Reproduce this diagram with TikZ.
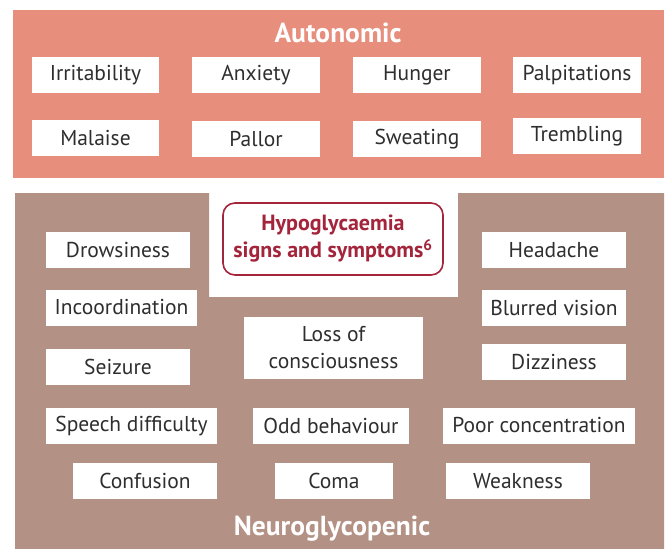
\documentclass[tikz,border=0pt]{standalone}
\usepackage{fontspec}
\setmainfont{PT Sans}
\definecolor{autonom}{HTML}{E88E7D}
\definecolor{neuro}{HTML}{B39184}
\definecolor{hypo}{HTML}{A3243B}
\definecolor{schrift}{HTML}{2E2E2E}

\begin{document}
\begin{tikzpicture}[x=1pt,y=-1pt,
  sym/.style={fill=white, inner sep=0pt, minimum height=36pt, align=center,
    font=\fontsize{21.5}{27}\selectfont, text=schrift},
  titel/.style={font=\fontsize{27.5}{30}\selectfont\bfseries, text=white}]
\useasboundingbox (0,0) rectangle (670,549);

% Autonomic panel
\fill[autonom] (13,10) rectangle (664,178);
\node[titel] (autonomic) at (338,33) {Autonomic};
\node[sym, minimum width=127pt] (irritability) at (95.5,75) {Irritability};
\node[sym, minimum width=128pt] (anxiety) at (256,75) {Anxiety};
\node[sym, minimum width=128pt] (hunger) at (417,75) {Hunger};
\node[sym, minimum width=128pt] (palpitations) at (577,75) {Palpitations};
\node[sym, minimum width=127pt] (malaise) at (95.5,138) {Malaise};
\node[sym, minimum width=128pt] (pallor) at (256,139) {Pallor};
\node[sym, minimum width=128pt] (sweating) at (417,139) {Sweating};
\node[sym, minimum width=128pt] (trembling) at (577,136) {Trembling};

% Neuroglycopenic panel
\fill[neuro] (15,193) -- (209,193) -- (209,297) -- (458,297) -- (458,193)
  -- (664,193) -- (664,549) -- (15,549) -- cycle;
\node[draw=hypo, line width=1.6pt, rounded corners=12pt, fill=white,
  minimum width=220pt, minimum height=72pt, align=center, text=hypo,
  font=\fontsize{22}{27}\selectfont\bfseries] (hypoglyk) at (333,239)
  {Hypoglycaemia\\signs and symptoms\textsuperscript{6}};

% left column
\node[sym, minimum width=144pt] (drowsiness) at (118,250) {Drowsiness};
\node[sym, minimum width=151pt] (incoordination) at (121.5,307.5) {Incoordination};
\node[sym, minimum width=144pt] (seizure) at (118,367) {Seizure};
% middle
\node[sym, minimum width=179pt, minimum height=62pt] (loss) at (333.5,348) {Loss of\\consciousness};
% right column
\node[sym, minimum width=144pt] (headache) at (554,250) {Headache};
\node[sym, minimum width=144pt] (blurred) at (554,308) {Blurred vision};
\node[sym, minimum width=144pt] (dizziness) at (554,362) {Dizziness};
% lower rows
\node[sym, minimum width=171pt] (speech) at (131.5,426) {Speech difficulty};
\node[sym, minimum width=156pt] (odd) at (331,425.5) {Odd behaviour};
\node[sym, minimum width=192pt] (poor) at (539,425.5) {Poor concentration};
\node[sym, minimum width=144pt] (confusion) at (145,481) {Confusion};
\node[sym, minimum width=118pt] (coma) at (334,481) {Coma};
\node[sym, minimum width=144pt] (weakness) at (518,481) {Weakness};
\node[titel] (neuroglyco) at (332,529) {Neuroglycopenic};
\end{tikzpicture}
\end{document}
